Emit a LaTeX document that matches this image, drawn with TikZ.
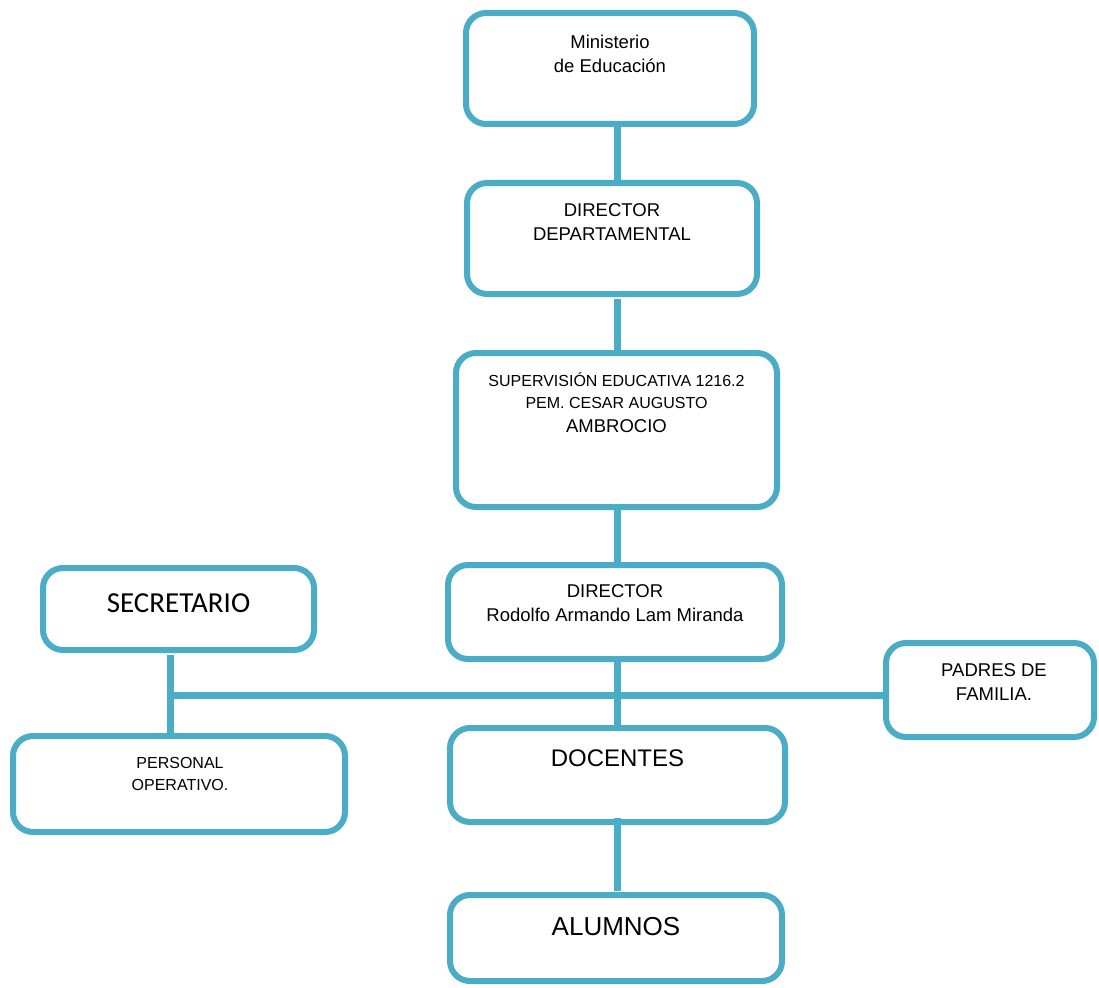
\documentclass[tikz,border=0pt]{standalone}
\usepackage{fontspec}
\setmainfont{Liberation Sans}
\newfontfamily\calfont{Carlito}
\definecolor{orgblue}{RGB}{75,172,198}

\begin{document}
\begin{tikzpicture}[x=1pt, y=-1pt,
        orgbox/.style={draw=orgblue, line width=6pt, rounded corners=20pt, outer sep=0pt, inner sep=0pt},
        link/.style={draw=orgblue, line width=7pt},
        txt/.style={align=center, inner sep=0pt, font=\fontsize{18.5}{24}\selectfont}]
            \useasboundingbox (0,0) rectangle (1099,987);
            \def \spx {617}
            \coordinate (spine) at (\spx, 0);
            \coordinate (secx) at (170, 0);
            \coordinate (bus) at (0, 695);
            % boxes
            \node[orgbox, minimum width=288pt, minimum height=111pt] (min) at (610, 68.5) {};
            \node[orgbox, minimum width=290pt, minimum height=111pt] (dep) at (612, 238.5) {};
            \node[orgbox, minimum width=321pt, minimum height=154pt] (sup) at (616.5, 430) {};
            \node[orgbox, minimum width=334pt, minimum height=94pt] (dir) at (615, 612) {};
            \node[orgbox, minimum width=271pt, minimum height=82pt] (sec) at (178.5, 609) {};
            \node[orgbox, minimum width=332pt, minimum height=96pt] (per) at (179, 784) {};
            \node[orgbox, minimum width=208pt, minimum height=94pt] (pad) at (990, 690) {};
            \node[orgbox, minimum width=335pt, minimum height=94pt] (doc) at (617.5, 775) {};
            \node[orgbox, minimum width=332pt, minimum height=86pt] (alu) at (616, 938) {};
            % texts
            \node[txt] (minT) at ([yshift=-41pt]min.north) {Ministerio\\de Educación};
            \node[txt] (depT) at ([yshift=-39.5pt]dep.north) {DIRECTOR\\DEPARTAMENTAL};
            \node[txt] (supT) at ([yshift=-50pt]sup.north) {{\fontsize{16}{21.5}\selectfont SUPERVISIÓN EDUCATIVA 1216.2}\\[-2pt]{\fontsize{16}{21.5}\selectfont PEM. CESAR AUGUSTO}\\AMBROCIO};
            \node[txt] (dirT) at ([yshift=-38.5pt]dir.north) {DIRECTOR\\Rodolfo Armando Lam Miranda};
            \node[txt, font=\calfont\fontsize{29}{34}\selectfont] (secT) at ([yshift=-35pt]sec.north) {SECRETARIO};
            \node[txt, font=\fontsize{16}{22}\selectfont] (perT) at ([xshift=1pt, yshift=-38pt]per.north) {PERSONAL\\OPERATIVO.};
            \node[txt] (padT) at ([xshift=4pt, yshift=-39.5pt]pad.north) {PADRES DE\\FAMILIA.};
            \node[txt, font=\fontsize{24}{28}\selectfont] (docT) at ([yshift=-30pt]doc.north) {DOCENTES};
            \node[txt, font=\fontsize{26}{30}\selectfont] (aluT) at ([yshift=-32pt]alu.north) {ALUMNOS};
            % connectors
            \draw[link] (min.south -| spine) -- (dep.north -| spine);
            \draw[link, shorten <=5pt] (dep.south -| spine) -- (sup.north -| spine);
            \draw[link] (sup.south -| spine) -- (dir.north -| spine);
            \draw[link] (dir.south -| spine) -- (doc.north -| spine);
            \draw[link, shorten <=-4pt, shorten >=4pt] (doc.south -| spine) -- (alu.north -| spine);
            \draw[link, shorten <=5pt] (sec.south -| secx) -- (per.north -| secx);
            \draw[link] (secx |- bus) -- (pad.west |- bus);
        \end{tikzpicture}
\end{document}
